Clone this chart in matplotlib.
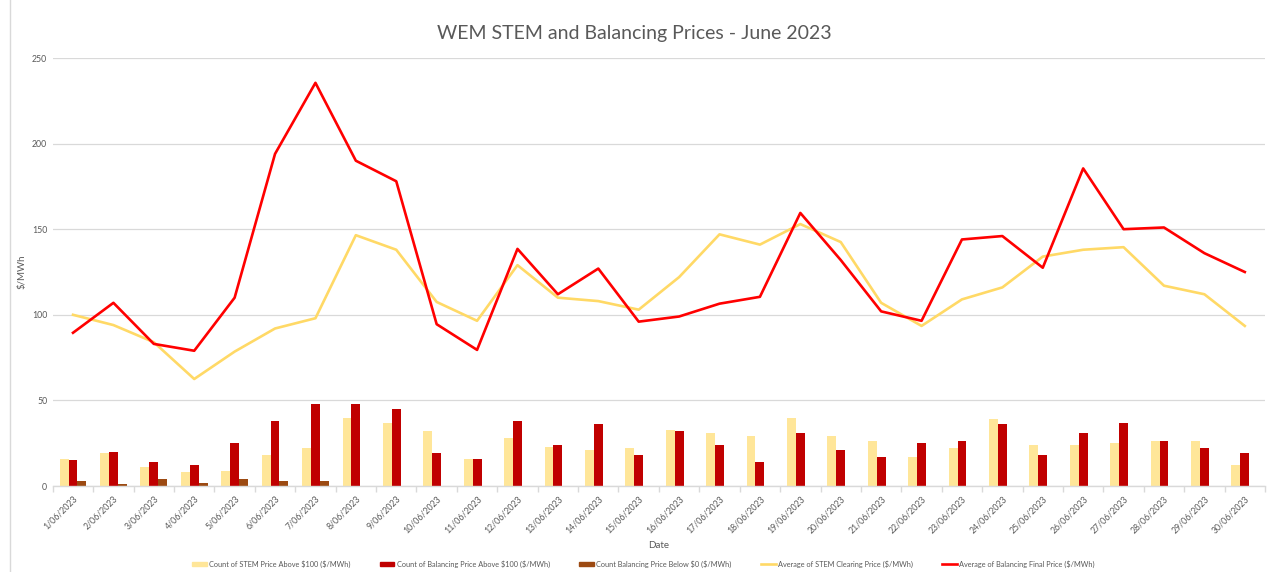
import matplotlib.pyplot as plt
import numpy as np
from matplotlib.lines import Line2D
from matplotlib.patches import Patch

plt.rcParams['font.family'] = ['Lato', 'DejaVu Sans']
plt.rcParams['text.parse_math'] = False

# data
days = ["%d/06/2023" % d for d in range(1, 31)]

stem_count = [16, 19, 11, 8, 9, 18, 22, 40, 37, 32,
              16, 28, 23, 21, 22, 33, 31, 29, 40, 29,
              26, 17, 22, 39, 24, 24, 25, 26, 26, 12]
bal_count = [15, 20, 14, 12, 25, 38, 48, 48, 45, 19,
             16, 38, 24, 36, 18, 32, 24, 14, 31, 21,
             17, 25, 26, 36, 18, 31, 37, 26, 22, 19]
neg_count = [3, 1, 4, 2, 4, 3, 3, 0, 0, 0,
             0, 0, 0, 0, 0, 0, 0, 0, 0, 0,
             0, 0, 0, 0, 0, 0, 0, 0, 0, 0]

stem_avg = [100, 94, 84, 62.5, 78.5, 92, 98, 146.5, 138, 107.5,
            96.5, 129, 110, 108, 103, 122, 147, 141, 153, 142.5,
            107, 93.5, 109, 116, 134, 138, 139.5, 117, 112, 93.5]
bal_avg = [89.5, 107, 83, 79, 110, 194, 235.5, 190, 178, 94.5,
           79.5, 138.5, 112, 127, 96, 99, 106.5, 110.5, 159.5, 132,
           102, 96.5, 144, 146, 127.5, 185.5, 150, 151, 136, 125]

legend_names = ["Count of STEM Price Above $100 ($/MWh)",
                "Count of Balancing Price Above $100 ($/MWh)",
                "Count Balancing Price Below $0 ($/MWh)",
                "Average of STEM Clearing Price ($/MWh)",
                "Average of Balancing Final Price ($/MWh)"]

c_stem_bar = "#FFE699"
c_bal_bar = "#C00000"
c_neg_bar = "#9C4A12"
c_stem_line = "#FFD966"
c_bal_line = "#FF0000"
grey = "#595959"

fig = plt.figure(figsize=(12.69, 5.72), dpi=100)
ax = fig.add_axes([52.8 / 1269, 86 / 572, (1265 - 52.8) / 1269, 428 / 572])

x = np.arange(len(days))
w = 0.22
ax.bar(x - w, stem_count, w, color=c_stem_bar, zorder=2)
ax.bar(x, bal_count, w, color=c_bal_bar, zorder=2)
ax.bar(x + w, neg_count, w, color=c_neg_bar, zorder=2)
ax.plot(x, stem_avg, color=c_stem_line, lw=1.9, zorder=3)
ax.plot(x, bal_avg, color=c_bal_line, lw=1.9, zorder=4)

ax.set_xlim(-0.5, len(days) - 0.5)
ax.set_ylim(0, 250)
ax.set_yticks(np.arange(0, 251, 50))
ax.yaxis.grid(True, color="#D9D9D9", lw=0.9, zorder=0)
ax.set_axisbelow(True)
for s in ["top", "right", "left"]:
    ax.spines[s].set_visible(False)
ax.spines["bottom"].set_color("#D9D9D9")
ax.spines["bottom"].set_linewidth(1.0)

ax.set_xticks(x)
ax.set_xticklabels(days, rotation=45, ha="right", va="top", rotation_mode="anchor",
                   fontsize=6.3, color=grey)
ax.set_xticks(np.arange(-0.5, len(days), 1), minor=True)
ax.tick_params(axis="x", which="major", length=0, pad=6)
ax.tick_params(axis="x", which="minor", length=4, color="#D9D9D9", width=1)
ax.tick_params(axis="y", length=0, labelsize=6.3, labelcolor=grey, pad=4)

ax.set_xlabel("Date", fontsize=7, color=grey, labelpad=4)
ax.set_ylabel("$/MWh", fontsize=7, color=grey, labelpad=4)

fig.text(0.5, 1 - 33 / 572, "WEM STEM and Balancing Prices - June 2023",
         ha="center", va="center", fontsize=14, color=grey)

handles = [Patch(color=c_stem_bar), Patch(color=c_bal_bar), Patch(color=c_neg_bar),
           Line2D([], [], color=c_stem_line, lw=1.9),
           Line2D([], [], color=c_bal_line, lw=1.9)]
fig.legend(handles, legend_names, loc="center", bbox_to_anchor=(0.507, 1 - 564 / 572),
           ncol=5, frameon=False, fontsize=5.3, labelcolor=grey, columnspacing=4.0,
           handlelength=2.0, handleheight=0.6, handletextpad=0.3)

# left border of the chart area
fig.add_artist(Line2D([10 / 1269, 10 / 1269], [0, 1], color="#D9D9D9", lw=1))

fig.savefig("out.png", dpi=100)
